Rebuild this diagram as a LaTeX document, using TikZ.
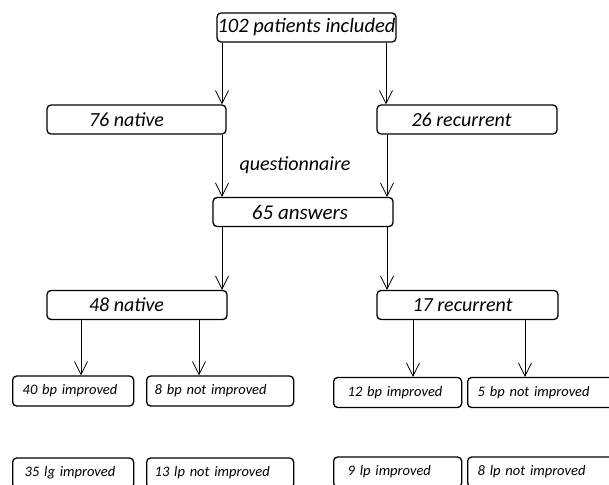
\documentclass[tikz,border=0pt]{standalone}
\usepackage{fontspec}
\setmainfont{Carlito}
\usetikzlibrary{arrows.meta}
\begin{document}
\begin{tikzpicture}[
  x=1pt, y=-1pt,
  group/.style={rectangle, draw, line width=1.3pt, rounded corners=4pt,
               minimum height=29pt, inner sep=0pt,
               font=\fontsize{20}{24}\selectfont\itshape},
  leaf/.style={rectangle, draw, line width=1.3pt, rounded corners=4pt,
               minimum height=30pt, inner xsep=10pt, inner ysep=0pt, align=left,
               font=\fontsize{14.5}{17}\selectfont\itshape},
  arr/.style={-{Straight Barb[length=13pt, width=13pt]}, line width=0.8pt}
]
\useasboundingbox (0,0) rectangle (609,484);

\node[group, minimum width=179pt, font=\fontsize{20.5}{24}\selectfont\itshape] (pat) at (306.5,27.5) {102 patients included};

\node[group, minimum width=179pt] (nat) at (136.5,119.5) {\hspace*{-20pt}76 native};
\node[group, minimum width=180pt] (rec) at (467,119.5) {\hspace*{-11pt}26 recurrent};

\node[font=\fontsize{20}{24}\selectfont\itshape] (quest) at (295,165) {questionnaire};

\node[group, minimum width=180pt, font=\fontsize{21}{24}\selectfont\itshape] (ans) at (303,212) {\hspace*{-6pt}65 answers};

\node[group, minimum width=180pt] (nat2) at (137,305) {\hspace*{-21pt}48 native};
\node[group, minimum width=181pt] (rec2) at (467.5,305) {\hspace*{-10pt}17 recurrent};

\node[leaf, text width=101pt, anchor=west] (bpa) at (12,391) {40 bp improved};
\node[leaf, text width=131pt, anchor=west, inner xsep=8pt] (bpb) at (146,391) {8 bp not improved};
\node[leaf, text width=100pt, anchor=west, inner xsep=14pt] (bpc) at (333,392.5) {12 bp improved};
\node[leaf, text width=133pt, anchor=west] (bpd) at (467,392.5) {5 bp not improved};

\node[leaf, text width=97pt, anchor=west, inner xsep=12pt] (lpa) at (12,473) {35 lg improved};
\node[leaf, text width=131pt, anchor=west, inner xsep=8pt] (lpb) at (146,473) {13 lp not improved};
\node[leaf, text width=100pt, anchor=west, inner xsep=14pt] (lpc) at (333,472) {9 lp improved};
\node[leaf, text width=133pt, anchor=west] (lpd) at (467,472) {8 lp not improved};

\draw[arr] (pat.south -| 222,0) -- (nat.north -| 222,0);
\draw[arr] (pat.south -| 386,0) -- (rec.north -| 386,0);

\draw[arr] (nat.south -| 222,0) -- (ans.north -| 222,0);
\draw[arr] (rec.south -| 387,0) -- (ans.north -| 387,0);

\draw[arr] (ans.south -| 222,0) -- (nat2.north -| 222,0);
\draw[arr] (ans.south -| 387,0) -- (rec2.north -| 387,0);

\draw[arr] (nat2.south -| 81,0) -- (bpa.north -| 81,0);
\draw[arr] (nat2.south -| 199,0) -- (bpb.north -| 199,0);
\draw[arr] (rec2.south -| 413,0) -- (bpc.north -| 413,0);
\draw[arr] (rec2.south -| 525,0) -- (bpd.north -| 525,0);

\end{tikzpicture}
\end{document}
